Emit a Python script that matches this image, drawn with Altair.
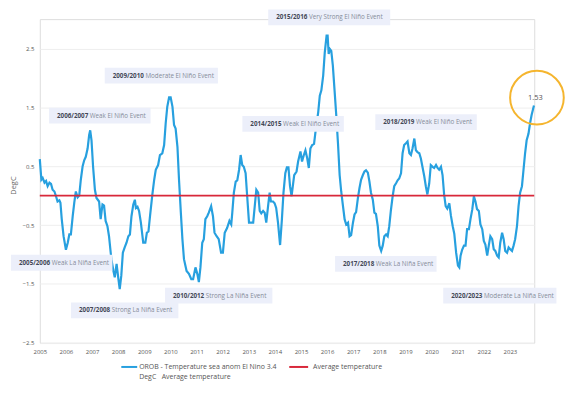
import altair as alt
import pandas as pd

# ---------------- data ----------------
years = [
    2005.00, 2005.06, 2005.11, 2005.18, 2005.24, 2005.30, 2005.37, 2005.43, 2005.49, 2005.56,
    2005.62, 2005.68, 2005.75, 2005.79, 2005.84, 2005.91, 2006.00, 2006.07, 2006.13, 2006.19,
    2006.26, 2006.32, 2006.38, 2006.45, 2006.51, 2006.57, 2006.64, 2006.70, 2006.76, 2006.83,
    2006.89, 2006.93, 2006.98, 2007.04, 2007.11, 2007.17, 2007.27, 2007.33, 2007.40, 2007.46,
    2007.52, 2007.59, 2007.65, 2007.74, 2007.82, 2007.87, 2007.94, 2008.01, 2008.06, 2008.12,
    2008.18, 2008.25, 2008.32, 2008.39, 2008.45, 2008.51, 2008.58, 2008.64, 2008.68, 2008.74,
    2008.80, 2008.87, 2008.96, 2009.04, 2009.10, 2009.16, 2009.22, 2009.31, 2009.38, 2009.44,
    2009.53, 2009.60, 2009.69, 2009.76, 2009.82, 2009.88, 2009.95, 2010.01, 2010.08, 2010.14,
    2010.20, 2010.27, 2010.33, 2010.40, 2010.46, 2010.52, 2010.62, 2010.71, 2010.80, 2010.87,
    2010.96, 2011.03, 2011.09, 2011.15, 2011.22, 2011.28, 2011.34, 2011.41, 2011.47, 2011.56,
    2011.63, 2011.69, 2011.77, 2011.85, 2011.94, 2012.01, 2012.08, 2012.17, 2012.26, 2012.33,
    2012.37, 2012.43, 2012.50, 2012.56, 2012.63, 2012.69, 2012.75, 2012.81, 2012.88, 2012.94,
    2013.01, 2013.09, 2013.17, 2013.23, 2013.29, 2013.36, 2013.42, 2013.48, 2013.55, 2013.61,
    2013.67, 2013.74, 2013.80, 2013.85, 2013.93, 2013.99, 2014.05, 2014.12, 2014.20, 2014.27,
    2014.33, 2014.40, 2014.46, 2014.52, 2014.58, 2014.64, 2014.74, 2014.83, 2014.89, 2014.98,
    2015.04, 2015.11, 2015.17, 2015.24, 2015.30, 2015.36, 2015.43, 2015.50, 2015.57, 2015.66,
    2015.72, 2015.78, 2015.85, 2015.91, 2015.98, 2016.02, 2016.06, 2016.11, 2016.16, 2016.22,
    2016.29, 2016.35, 2016.42, 2016.48, 2016.54, 2016.60, 2016.67, 2016.73, 2016.80, 2016.86,
    2016.92, 2016.99, 2017.05, 2017.11, 2017.18, 2017.24, 2017.30, 2017.37, 2017.43, 2017.49,
    2017.56, 2017.62, 2017.68, 2017.75, 2017.81, 2017.87, 2017.94, 2018.00, 2018.07, 2018.13,
    2018.19, 2018.26, 2018.32, 2018.38, 2018.44, 2018.51, 2018.57, 2018.64, 2018.70, 2018.76,
    2018.83, 2018.89, 2018.95, 2019.02, 2019.08, 2019.15, 2019.21, 2019.27, 2019.34, 2019.40,
    2019.46, 2019.53, 2019.59, 2019.65, 2019.72, 2019.78, 2019.84, 2019.91, 2019.97, 2020.04,
    2020.10, 2020.17, 2020.23, 2020.29, 2020.36, 2020.42, 2020.48, 2020.54, 2020.60, 2020.68,
    2020.74, 2020.81, 2020.87, 2020.94, 2021.01, 2021.06, 2021.11, 2021.17, 2021.24, 2021.30,
    2021.36, 2021.43, 2021.49, 2021.56, 2021.62, 2021.68, 2021.74, 2021.81, 2021.87, 2021.94,
    2022.00, 2022.06, 2022.13, 2022.19, 2022.25, 2022.32, 2022.38, 2022.44, 2022.51, 2022.57,
    2022.63, 2022.70, 2022.76, 2022.82, 2022.89, 2022.95, 2023.01, 2023.08, 2023.14, 2023.20,
    2023.27, 2023.33, 2023.39, 2023.46, 2023.52, 2023.58, 2023.64, 2023.71, 2023.77, 2023.83,
    2023.92,
]
values = [
    0.62, 0.27, 0.30, 0.22, 0.25, 0.16, 0.22, 0.20, 0.10, 0.07,
    -0.01, -0.10, -0.08, -0.12, -0.40, -0.69, -0.92, -0.80, -0.66, -0.66,
    -0.35, -0.12, 0.07, -0.03, 0.00, 0.27, 0.50, 0.60, 0.66, 0.80,
    1.03, 1.11, 0.94, 0.49, 0.10, -0.04, -0.10, -0.40, -0.15, -0.17,
    -0.43, -0.52, -0.69, -1.08, -1.28, -1.39, -1.16, -1.42, -1.59, -1.36,
    -0.97, -0.88, -0.80, -0.69, -0.66, -0.35, -0.15, -0.07, -0.21, -0.19,
    -0.26, -0.46, -0.80, -0.80, -0.63, -0.61, -0.35, 0.02, 0.27, 0.44,
    0.52, 0.69, 0.72, 0.86, 1.23, 1.51, 1.67, 1.67, 1.51, 1.20,
    1.14, 0.83, 0.27, -0.29, -0.74, -1.08, -1.28, -1.33, -1.42, -1.42,
    -1.22, -1.33, -1.47, -1.22, -0.80, -0.74, -0.40, -0.35, -0.29, -0.18,
    -0.35, -0.63, -0.69, -0.74, -0.97, -0.97, -0.63, -0.55, -0.43, -0.49,
    -0.29, 0.05, 0.24, 0.26, 0.44, 0.69, 0.52, 0.49, 0.38, -0.01,
    -0.46, -0.46, -0.46, -0.18, 0.10, 0.05, -0.26, -0.30, -0.26, -0.29,
    -0.46, -0.18, 0.05, -0.10, -0.10, -0.13, -0.21, -0.46, -0.84, -0.40,
    0.05, 0.38, 0.48, 0.48, 0.16, -0.01, 0.35, 0.41, 0.58, 0.75,
    0.58, 0.69, 0.77, 0.63, 0.47, 0.80, 0.86, 0.88, 1.14, 1.42,
    1.70, 1.79, 2.04, 2.43, 2.72, 2.72, 2.41, 2.49, 2.46, 2.21,
    1.76, 1.37, 0.86, 0.35, 0.07, -0.15, -0.40, -0.49, -0.46, -0.69,
    -0.67, -0.46, -0.32, -0.28, -0.04, 0.13, 0.27, 0.35, 0.41, 0.43,
    0.39, 0.24, 0.05, -0.07, -0.29, -0.31, -0.52, -0.85, -0.94, -0.85,
    -0.69, -0.66, -0.69, -0.52, -0.26, -0.01, 0.16, 0.21, 0.26, 0.29,
    0.38, 0.72, 0.86, 0.89, 0.92, 0.72, 0.69, 0.80, 0.97, 0.77,
    0.74, 0.72, 0.63, 0.49, 0.33, 0.16, 0.02, 0.21, 0.52, 0.49,
    0.47, 0.52, 0.47, 0.44, 0.49, 0.35, 0.02, -0.18, -0.22, -0.13,
    -0.34, -0.52, -0.65, -0.97, -1.19, -1.22, -1.02, -0.92, -0.85, -0.85,
    -0.57, -0.57, -0.40, -0.23, -0.01, -0.10, -0.23, -0.26, -0.49, -0.57,
    -0.77, -0.83, -1.02, -0.85, -0.69, -0.74, -0.91, -0.94, -1.02, -1.05,
    -0.80, -0.63, -0.74, -0.94, -0.97, -0.88, -0.91, -0.94, -0.85, -0.74,
    -0.52, -0.18, 0.05, 0.16, 0.44, 0.72, 0.94, 1.05, 1.23, 1.37,
    1.53,
]

series_name = "OROB - Temperature sea anom El Nino 3.4"
series_sub = "DegC\u00a0\u00a0\u00a0Average temperature"
avg_name = "Average temperature"
avg_value = [0.0]

ann_period = ["2015/2016", "2009/2010", "2006/2007", "2014/2015", "2018/2019",
              "2005/2006", "2007/2008", "2010/2012", "2017/2018", "2020/2023"]
ann_desc = ["Very Strong El Niño Event", "Moderate El Niño Event", "Weak El Niño Event",
            "Weak El Niño Event", "Weak El Niño Event", "Weak La Niña Event",
            "Strong La Niña Event", "Strong La Niña Event", "Weak La Niña Event",
            "Moderate La Niña Event"]
ann_year = [2014.05, 2007.79, 2005.66, 2013.06, 2018.15,
            2004.20, 2006.50, 2010.10, 2016.61, 2020.75]
ann_value = [3.03, 2.04, 1.36, 1.22, 1.25, -1.14, -1.95, -1.70, -1.16, -1.70]

x_ticks = list(range(2005, 2024))
y_ticks = [-2.5, -1.5, -0.5, 0.5, 1.5, 2.5]

# ---------------- layout / style ----------------
FONT = "Open Sans"
BLUE = "#27A0DF"
RED = "#D8283A"
GOLD = "#F5B52E"
X_MIN, X_MAX = 2005.0, 2023.93
Y_MIN, Y_MAX = -2.5, 3.0
W, H = 497.5, 325.6
PX_PER_YEAR = W / (X_MAX - X_MIN)
PX_PER_UNIT = H / (Y_MAX - Y_MIN)

df = pd.DataFrame({"year": years, "value": values, "series": series_name})
avg_df = pd.DataFrame({"value": avg_value, "series": avg_name})
last_df = df.tail(1)

ann = pd.DataFrame({"period": ann_period, "desc": ann_desc,
                    "year": ann_year, "value": ann_value})
ann["x1"] = ann["year"] - 8 / PX_PER_YEAR
ann["x2"] = ann["year"] + (33 + ann["desc"].str.len() * 2.95 + 8) / PX_PER_YEAR
ann["y1"] = ann["value"] - 8 / PX_PER_UNIT
ann["y2"] = ann["value"] + 8 / PX_PER_UNIT

xscale = alt.Scale(domain=[X_MIN, X_MAX], nice=False, zero=False)
yscale = alt.Scale(domain=[Y_MIN, Y_MAX], nice=False, zero=False)

xaxis = alt.Axis(values=x_ticks, format="d", title=None, grid=False, domain=False,
                 ticks=False, labelPadding=6, labelFontSize=6, labelColor="#555",
                 labelFont=FONT, labelOverlap=False, labelFlush=False)
yaxis = alt.Axis(values=y_ticks, format=".1f", title="DegC", grid=True,
                 gridColor="#EEEEEE", domain=False, ticks=False, labelPadding=6,
                 labelFontSize=6, labelColor="#555", labelFont=FONT,
                 labelOverlap=False, labelFlush=False,
                 titleFont=FONT, titleFontSize=7.5, titleColor="#666",
                 titleFontWeight="normal", titleX=-26, titleY=167,
                 titleBaseline="middle", titleAlign="center")


def X(field):
    return alt.X(field, scale=xscale, axis=xaxis)


def Y(field):
    return alt.Y(field, scale=yscale, axis=yaxis)


line = alt.Chart(df).mark_line(color=BLUE, strokeWidth=2.2).encode(
    x=X("year:Q"), y=Y("value:Q"),
)

avg_rule = alt.Chart(avg_df).mark_rule(color=RED, strokeWidth=2).encode(
    y=Y("value:Q")
)

boxes = alt.Chart(ann).mark_rect(color="#ECEFFA").encode(
    x=X("x1:Q"), x2="x2", y=Y("y1:Q"), y2="y2"
)
bold_txt = alt.Chart(ann).mark_text(
    align="left", baseline="middle", font=FONT, fontSize=6.3,
    fontWeight="bold", color="#434856"
).encode(x=X("year:Q"), y=Y("value:Q"), text="period:N")
desc_txt = alt.Chart(ann).mark_text(
    align="left", baseline="middle", font=FONT, fontSize=6.3, dx=33,
    color="#858c99"
).encode(x=X("year:Q"), y=Y("value:Q"), text="desc:N")

circle = alt.Chart(last_df).mark_point(
    shape="circle", size=2916, filled=False, stroke=GOLD, strokeWidth=2,
    xOffset=3, yOffset=-8, opacity=1
).encode(x=X("year:Q"), y=Y("value:Q"))
circle_txt = alt.Chart(last_df).mark_text(
    font=FONT, fontSize=7.5, color="#555", dx=1.5, dy=-8, baseline="middle"
).encode(x=X("year:Q"), y=Y("value:Q"), text=alt.Text("value:Q", format=".2f"))

one = pd.DataFrame({"k": [0]})
leg_blue = alt.Chart(one).mark_rule(color=BLUE, strokeWidth=2).encode(
    x=alt.value(82), x2=alt.value(98), y=alt.value(350))
leg_blue_t1 = alt.Chart(one).mark_text(
    align="left", baseline="middle", font=FONT, fontSize=7, color="#555"
).encode(x=alt.value(100), y=alt.value(350), text=alt.value(series_name))
leg_blue_t2 = alt.Chart(one).mark_text(
    align="left", baseline="middle", font=FONT, fontSize=7, color="#555"
).encode(x=alt.value(100), y=alt.value(360.5), text=alt.value(series_sub))
leg_red = alt.Chart(one).mark_rule(color=RED, strokeWidth=2).encode(
    x=alt.value(251), x2=alt.value(270), y=alt.value(350))
leg_red_t = alt.Chart(one).mark_text(
    align="left", baseline="middle", font=FONT, fontSize=7, color="#555"
).encode(x=alt.value(275), y=alt.value(350), text=alt.value(avg_name))

chart = alt.layer(
    line, avg_rule, boxes, bold_txt, desc_txt, circle, circle_txt,
    leg_blue, leg_blue_t1, leg_blue_t2, leg_red, leg_red_t
).properties(
    width=W, height=H,
    autosize=alt.AutoSizeParams(type="none"),
    padding={"left": 32, "top": 10, "right": 36, "bottom": 48},
).configure_view(stroke=None).configure_axisX(labelOverlap=False).configure(background="white")

chart.save("out.html", embed_options={"renderer": "svg", "actions": False})
